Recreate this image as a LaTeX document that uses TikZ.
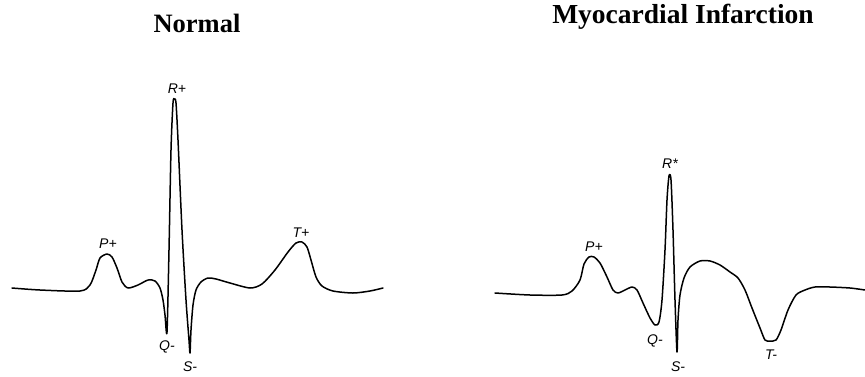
\documentclass[tikz,border=0pt]{standalone}
\usepackage{fontspec}
\setmainfont{Liberation Serif}
\newfontfamily\wavefont{Liberation Sans}
\usetikzlibrary{positioning}

\begin{document}
\begin{tikzpicture}[
		x=1pt, y=-1pt,
		trace/.style={line width=1.5pt, line join=round, line cap=round},
		wavelabel/.style={inner sep=0pt, font=\wavefont\itshape\fontsize{14}{16}\selectfont},
		heading/.style={inner sep=0pt, font=\bfseries\fontsize{26.5}{30}\selectfont}
	]
		\useasboundingbox (0,0) rectangle (865,376);
		% titles
		\node[heading] (normal) at (197,23) {Normal};
		\node[heading, font=\bfseries\fontsize{27.5}{30}\selectfont] (mi) at (683,17) {Myocardial Infarction};
		% normal trace
		\draw[trace] plot[smooth, tension=0.45] coordinates {
			(12,288) (40,290) (80,291) (90,285) (96,270) (100,258) (107,254)
			(112,257) (117,268) (122,282) (128,288) (138,285) (148,280) (155,281)
			(160,288) (163,300) (165,315) (167,332) (169,250) (171,150) (173,103)
			(174.5,99) (176,103) (178,140) (182,230) (186,300) (189,340) (190,353)
			(191,330) (193,305) (196,290) (201,282) (208,278) (216,279) (230,283)
			(250,288) (262,284) (275,270) (288,252) (296,243) (302,242) (307,247)
			(311,260) (316,277) (322,286) (333,291) (353,293) (370,291) (383,288)};
		\node[wavelabel] (pn) at (108,244) {P+};
		\node[wavelabel] (rn) at (177,89) {R+};
		\node[wavelabel] (qn) at (167,347) {Q-};
		\node[wavelabel] (sn) at (190,367) {S-};
		\node[wavelabel] (tn) at (301,233) {T+};
		% infarction trace
		\draw[trace] plot[smooth, tension=0.45] coordinates {
			(495,293) (530,295) (562,295) (572,291) (580,280) (584,264) (589,257)
			(594,257) (600,263) (607,277) (613,290) (618,293) (625,290) (632,287)
			(637,290) (643,303) (650,318) (655,325) (659,322) (662,300) (665,250)
			(667,200) (669,176) (671,180) (673,230) (675,300) (677,352) (678,320)
			(680,295) (684,278) (690,267) (700,261) (710,261) (720,265) (730,272)
			(738,278) (745,290) (752,308) (760,328) (765,340) (770,341) (776,340)
			(781,330) (788,310) (796,295) (805,290) (815,287) (830,287) (850,288)
			(865,290)};
		\node[wavelabel] (pm) at (594,247) {P+};
		\node[wavelabel] (rm) at (670,164) {R*};
		\node[wavelabel] (qm) at (655,341) {Q-};
		\node[wavelabel] (sm) at (678,367) {S-};
		\node[wavelabel] (tm) at (771,355) {T-};
	\end{tikzpicture}
\end{document}
